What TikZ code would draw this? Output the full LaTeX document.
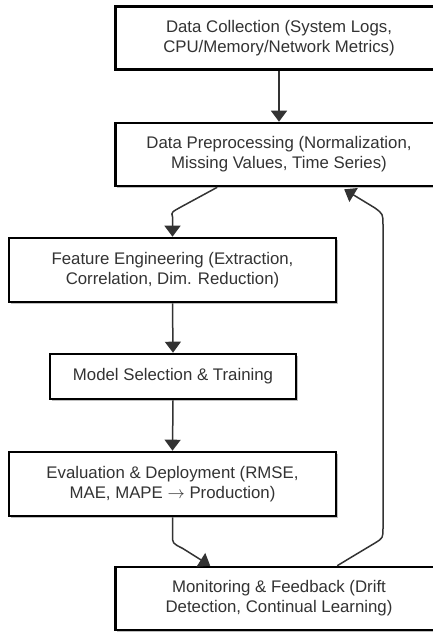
\documentclass[tikz,border=0pt]{standalone}
\usepackage{fontspec}
\setmainfont{Liberation Sans}
\usetikzlibrary{arrows.meta,calc,shadows}
\definecolor{edgegray}{HTML}{333333}
\definecolor{txtgray}{HTML}{333333}
\begin{document}
\begin{tikzpicture}[x=1pt,y=-1pt,
  box/.style={draw=black, line width=2.6pt, fill=white, inner sep=0pt,
    align=center, font=\fontsize{16.8}{20}\selectfont, text=txtgray,
    drop shadow={shadow xshift=1.5pt, shadow yshift=-1.5pt, opacity=0.25, fill=black}},
  wide/.style={box, minimum width=327pt, minimum height=63pt},
  conn/.style={draw=edgegray, line width=1.5pt, -{Triangle[length=11pt,width=16pt]}},
]
\useasboundingbox (0,0) rectangle (433,632);
\node[wide] (dc) at (279,38) {Data Collection (System Logs,\\CPU/Memory/Network Metrics)};
\node[wide] (dp) at (279,154.5) {Data Preprocessing (Normalization,\\Missing Values, Time Series)};
\node[wide, minimum height=64pt] (fe) at (172.5,270) {Feature Engineering (Extraction,\\Correlation, Dim. Reduction)};
\node[box, minimum width=246pt, minimum height=45pt] (ms) at (173,376.5) {Model Selection \& Training};
\node[wide, minimum height=64pt] (ed) at (172.5,484) {Evaluation \& Deployment (RMSE,\\MAE, MAPE $\rightarrow$ Production)};
\node[wide] (mf) at (279,598.5) {Monitoring \& Feedback (Drift\\Detection, Continual Learning)};

\draw[conn] (dc.south) -- (dp.north);
% dp -> fe
\coordinate (a1) at ($(dp.south west)+(103,0)$);
\draw[conn] (a1) -- ($(a1)+(-35,19)$) .. controls ($(a1)+(-46,25)$) .. ($(fe.north)+(0,-20)$) -- (fe.north);
\draw[conn] (fe.south) -- (ms.north);
\draw[conn] (ms.south) -- (ed.north);
% ed -> mf
\coordinate (b1) at ($(mf.north west)+(96,0)$);
\draw[conn] (ed.south) -- ($(ed.south)+(0,18)$) .. controls ($(ed.south)+(0,26)$) .. ($(ed.south)+(10,31)$) -- (b1);
% mf -> dp (feedback)
\coordinate (c0) at ($(mf.north west)+(223,0)$);
\coordinate (c1) at ($(dp.south west)+(230,2)$);
\draw[conn] (c0) -- (375,543) .. controls (383,538) .. (383,528) -- (383,225) .. controls (383,214) .. (375,208) -- (c1);
\end{tikzpicture}
\end{document}
